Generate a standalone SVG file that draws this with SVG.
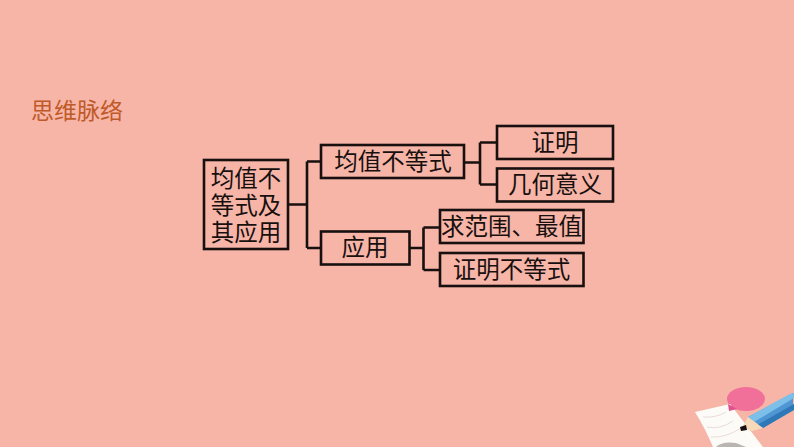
<svg xmlns="http://www.w3.org/2000/svg" width="794" height="447" viewBox="0 0 794 447">
<style>
.box{fill:#f7b5a8;stroke:#17100e;stroke-width:2.6}
.lbl{font-family:"Noto Sans CJK SC","Liberation Sans",sans-serif;font-size:23.5px;fill:#17100e;text-anchor:middle}
.conn{fill:none;stroke:#17100e;stroke-width:2.6}
</style>
<rect width="794" height="447" fill="#f7b5a8"/>
<text id="title" x="77" y="119" font-family="'Noto Sans CJK SC','Liberation Sans',sans-serif" font-size="23px" fill="#bf5a28" text-anchor="middle">思维脉络</text>
<g id="connectors">
<path class="conn" d="M288 204.500H307M307 161.500V248M307 161.500H321M307 248H321"/>
<path class="conn" d="M464 162.500H480M480 142.500V184.500M480 142.500H497M480 184.500H497"/>
<path class="conn" d="M409.500 248H423.500M423.500 227.500V270M423.500 227.500H440M423.500 270H440"/>
</g>
<g id="root"><rect class="box" x="204" y="160" width="84" height="89"/>
<text class="lbl"><tspan x="246" y="187">均值不</tspan><tspan x="246" y="214">等式及</tspan><tspan x="246" y="241">其应用</tspan></text></g>
<g id="n1"><rect class="box" x="321" y="145" width="143" height="33"/><text class="lbl" x="393" y="170">均值不等式</text></g>
<g id="n2"><rect class="box" x="321" y="231.500" width="88.500" height="33"/><text class="lbl" x="365" y="256">应用</text></g>
<g id="n3"><rect class="box" x="497" y="126" width="116" height="33"/><text class="lbl" x="555" y="151">证明</text></g>
<g id="n4"><rect class="box" x="497" y="168.500" width="116" height="33"/><text class="lbl" x="555" y="193">几何意义</text></g>
<g id="n5"><rect class="box" x="440" y="210" width="143.500" height="33"/><text class="lbl" x="511.500" y="235">求范围、最值</text></g>
<g id="n6"><rect class="box" x="440" y="253" width="143.500" height="33"/><text class="lbl" x="511.500" y="278">证明不等式</text></g>
<g id="illustration">
<ellipse cx="746" cy="399" rx="19" ry="12" fill="#f0709a"/>
<path d="M695 412L730 404L763 447H713Q705 428 695 412Z" fill="#fdfbf8"/>
<path d="M728 404L737 409L729 411Z" fill="#e0508a"/>
<path d="M703 417Q716 418 726 412M707 427Q720 430 733 421M711 437Q726 438 741 428" fill="none" stroke="#e8dcd8" stroke-width="1"/>
<path d="M716 447Q722 441 736 443L746 447Z" fill="#b9b5b2"/>
<path d="M748 417L793 393V410L763 428Z" fill="#4f96d3"/>
<path d="M748 417L790 394L794 393V398L754 422Z" fill="#7cc0ea"/>
<path d="M757 425L794 404V410L763 428Z" fill="#2f78b8"/>
<path d="M748 417L763 428L752 431L742 428Z" fill="#f6d9b8"/>
<path d="M740 427L746 425L747 430L741 431Z" fill="#17100e"/>
</g>
</svg>
